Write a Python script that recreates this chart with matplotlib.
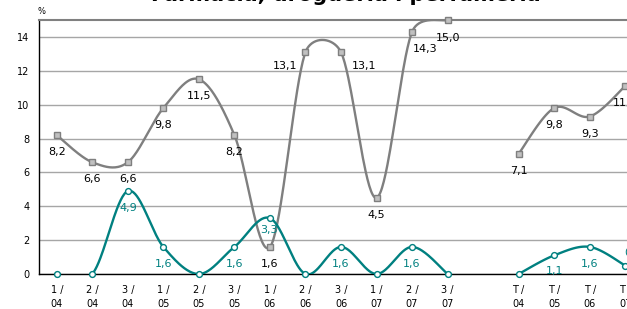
import numpy as np
import matplotlib
matplotlib.use('Agg')
import matplotlib.pyplot as plt

# data
categories = ['1 /\n04', '2 /\n04', '3 /\n04', '1 /\n05', '2 /\n05', '3 /\n05',
              '1 /\n06', '2 /\n06', '3 /\n06', '1 /\n07', '2 /\n07', '3 /\n07',
              '', 'T /\n04', 'T /\n05', 'T /\n06', 'T /\n07']
grey_vals = [8.2, 6.6, 6.6, 9.8, 11.5, 8.2, 1.6, 13.1, 13.1, 4.5, 14.3, 15.0,
             np.nan, 7.1, 9.8, 9.3, 11.1]
teal_vals = [0, 0, 4.9, 1.6, 0, 1.6, 3.3, 0, 1.6, 0, 1.6, 0,
             np.nan, 0, 1.1, 1.6, 0.5]

GREY = '#7f7f7f'
TEAL = '#008080'

W, H = 627, 309
fig = plt.figure(figsize=(W / 100, H / 100), dpi=100)
ax_l, ax_r, ax_t, ax_b = 39, 643, 20, 274
ax = fig.add_axes([ax_l / W, (H - ax_b) / H, (ax_r - ax_l) / W, (ax_b - ax_t) / H])

n = len(categories)
ax.set_xlim(-0.5, n - 0.5)
ax.set_ylim(0, 15)
sx = (ax_r - ax_l) / n      # px per category
sy = (ax_b - ax_t) / 15.0   # px per unit


def smooth(xs, ys, steps=40):
    # excel-like bezier smoothing, arms clamped to half the segment
    px = np.array(xs) * sx
    py = np.array(ys) * sy
    pts = np.column_stack([px, py])
    out = [pts[0]]
    m = len(pts)
    for i in range(m - 1):
        p0 = pts[max(i - 1, 0)]
        p1 = pts[i]
        p2 = pts[i + 1]
        p3 = pts[min(i + 2, m - 1)]
        seg = np.hypot(*(p2 - p1))
        t1 = (p2 - p0) / 6
        t2 = (p3 - p1) / 6
        l1 = np.hypot(*t1)
        l2 = np.hypot(*t2)
        if l1 > seg / 2:
            t1 = t1 * (seg / 2) / l1
        if l2 > seg / 2:
            t2 = t2 * (seg / 2) / l2
        c1 = p1 + t1
        c2 = p2 - t2
        t = np.linspace(0, 1, steps)[1:, None]
        b = ((1 - t) ** 3) * p1 + 3 * ((1 - t) ** 2) * t * c1 + 3 * (1 - t) * t ** 2 * c2 + t ** 3 * p2
        out.extend(b)
    out = np.array(out)
    return out[:, 0] / sx, out[:, 1] / sy


def draw_series(vals, color, marker, mfc, ms):
    x = np.arange(n)
    v = np.array(vals, dtype=float)
    ok = ~np.isnan(v)
    # split into runs
    runs = []
    cur = []
    for i in range(n):
        if ok[i]:
            cur.append(i)
        elif cur:
            runs.append(cur)
            cur = []
    if cur:
        runs.append(cur)
    for r in runs:
        sxs, sys_ = smooth(x[r], v[r])
        ax.plot(sxs, sys_, color=color, lw=1.7, zorder=3, solid_capstyle='round')
    ax.plot(x[ok], v[ok], ls='none', marker=marker, ms=ms, mfc=mfc, mec=color,
            mew=1.0, zorder=4, clip_on=False)


draw_series(grey_vals, GREY, 's', '#c0c0c0', 5)
draw_series(teal_vals, TEAL, 'o', 'white', 4.2)

# data labels
grey_off = {7: (-20, 14), 8: (23, 14), 10: (13, 17), 11: (0, 18)}
teal_off = {6: (-1, 12), 14: (0, 16), 16: (8, -13)}
for i, v in enumerate(grey_vals):
    if np.isnan(v):
        continue
    dx, dy = grey_off.get(i, (0, 17))
    ax.annotate(f'{v:.1f}'.replace('.', ','), (i, v), xytext=(dx, -dy),
                textcoords='offset pixels', ha='center', va='center',
                fontsize=8, color='black', zorder=5, annotation_clip=False)
for i, v in enumerate(teal_vals):
    if np.isnan(v) or v == 0:
        continue
    dx, dy = teal_off.get(i, (0, 17))
    ax.annotate(f'{v:.1f}'.replace('.', ','), (i, v), xytext=(dx, -dy),
                textcoords='offset pixels', ha='center', va='center',
                fontsize=8, color=TEAL, zorder=5, annotation_clip=False)

# axes styling
ax.set_yticks(range(0, 15, 2))
ax.set_xticks(range(n))
ax.set_xticklabels(categories, linespacing=1.45)
ax.tick_params(axis='both', length=0, labelsize=7)
ax.tick_params(axis='y', pad=7)
ax.tick_params(axis='x', pad=8)
ax.yaxis.grid(True, color='#a6a6a6', lw=1.0)
ax.set_axisbelow(True)
for s in ['left', 'bottom']:
    ax.spines[s].set_color('black')
    ax.spines[s].set_linewidth(1.0)
ax.spines['right'].set_visible(False)
ax.spines['top'].set_color('#808080')
ax.spines['top'].set_linewidth(1.5)

fig.text(42 / W, 1 - 12 / H, '%', fontsize=6, ha='center', va='center')
fig.text(346 / W, 1 - 1 / H, 'Farmacia, droguería i perfumería', fontsize=15,
         fontweight='bold', ha='center', va='baseline')

fig.savefig('out.png', dpi=100)
